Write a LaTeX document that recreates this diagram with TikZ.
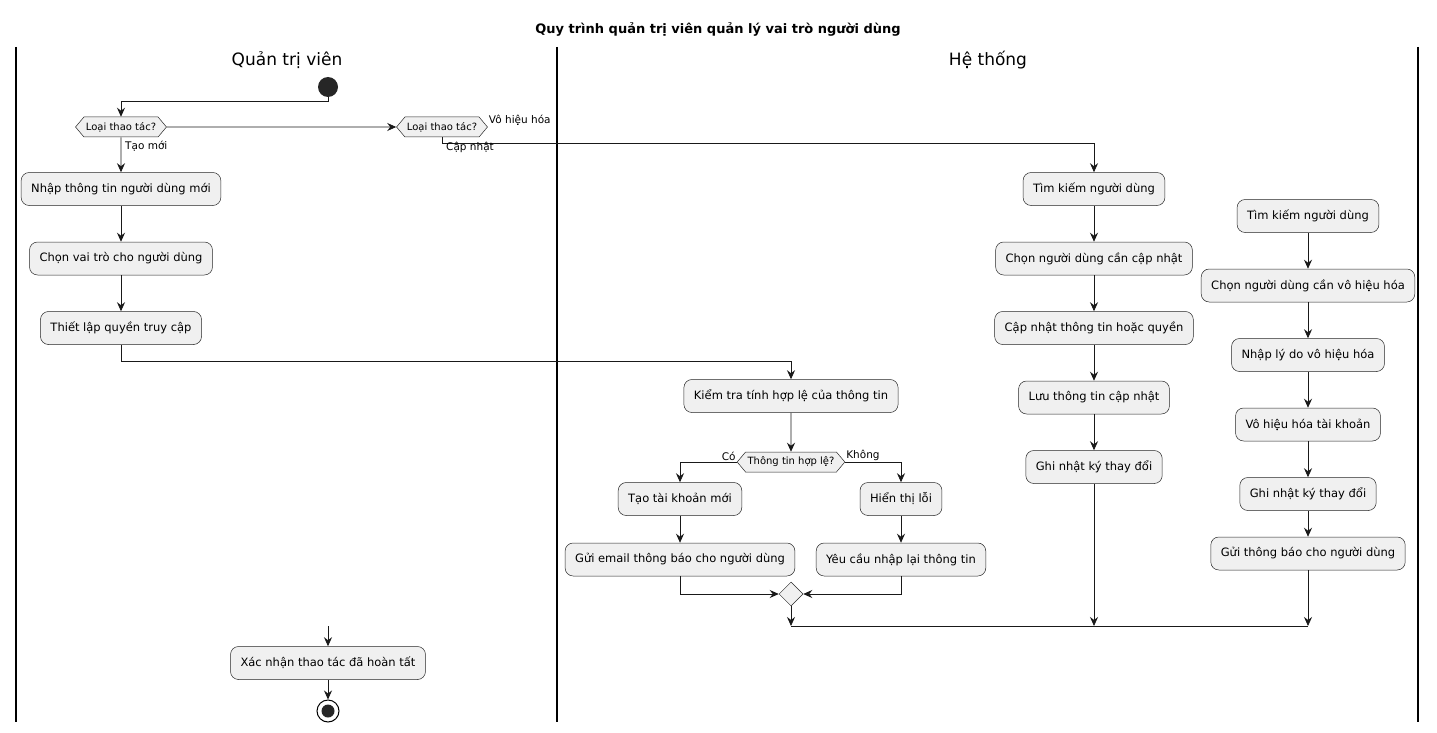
\documentclass[tikz,border=0pt]{standalone}
\usepackage{fontspec}
\setmainfont{DejaVu Sans}
\usetikzlibrary{shapes.geometric, shapes.symbols, arrows.meta, positioning}

\begin{document}
\begin{tikzpicture}[
  x=1pt, y=-1pt,
  node distance=36pt,
  act/.style={rectangle, rounded corners=8pt, draw=black!85, fill=black!6, line width=0.5pt, minimum height=33pt, inner xsep=10pt, font=\fontsize{11.5}{13}\selectfont},
  choice/.style={signal, signal to=east and west, signal pointer angle=100, draw=black!85, fill=black!6, line width=0.5pt, minimum height=20pt, inner xsep=2pt, inner ysep=1pt, font=\fontsize{10}{11}\selectfont},
  merge/.style={diamond, draw=black!85, fill=black!6, line width=0.5pt, minimum size=24pt, inner sep=0pt},
  lane/.style={line width=1.5pt},
  lanetitle/.style={font=\fontsize{17}{20}\selectfont},
  blabel/.style={font=\fontsize{10.5}{12}\selectfont, inner sep=1pt},
  arr/.style={-{Stealth[length=9pt, width=8pt, inset=3pt]}, line width=0.8pt, black!90},
  line/.style={line width=0.8pt, black!90},
]
\useasboundingbox (0,0) rectangle (1437,733);

% title and swimlanes
\node[font=\bfseries\fontsize{13}{15}\selectfont] (title) at (718,29) {Quy trình quản trị viên quản lý vai trò người dùng};
\draw[lane] (16,47) -- (16,722);
\draw[lane] (557,47) -- (557,722);
\draw[lane] (1418,47) -- (1418,722);
\node[lanetitle] (admin) at (287,60) {Quản trị viên};
\node[lanetitle] (sys) at (988,60) {Hệ thống};

% start and choices
\node[circle, fill=black!85, minimum size=20pt, inner sep=0pt] (start) at (328,87) {};
\node[choice] (kind1) at (121,127) {Loại thao tác?};
\node[choice] (kind2) at (442,127) {Loại thao tác?};

% create branch
\node[act] (newinfo) at (121,189) {Nhập thông tin người dùng mới};
\node[act, below=of newinfo] (pickrole) {Chọn vai trò cho người dùng};
\node[act, below=of pickrole] (setperm) {Thiết lập quyền truy cập};
\node[act] (check) at (791,396) {Kiểm tra tính hợp lệ của thông tin};
\node[choice] (valid) at (791,462) {Thông tin hợp lệ?};
\node[act] (mkacct) at (680,499) {Tạo tài khoản mới};
\node[act, below=27pt of mkacct] (mail) {Gửi email thông báo cho người dùng};
\node[act] (showerr) at (901,499) {Hiển thị lỗi};
\node[act, below=27pt of showerr] (reenter) {Yêu cầu nhập lại thông tin};
\node[merge] (join) at (791,594) {};

% update branch
\node[act] (find1) at (1094,189) {Tìm kiếm người dùng};
\node[act, below=of find1] (pickupd) {Chọn người dùng cần cập nhật};
\node[act, below=of pickupd] (editupd) {Cập nhật thông tin hoặc quyền};
\node[act, below=of editupd] (saveupd) {Lưu thông tin cập nhật};
\node[act, below=of saveupd] (logupd) {Ghi nhật ký thay đổi};

% disable branch
\node[act] (find2) at (1308,216) {Tìm kiếm người dùng};
\node[act, below=of find2] (pickoff) {Chọn người dùng cần vô hiệu hóa};
\node[act, below=of pickoff] (reason) {Nhập lý do vô hiệu hóa};
\node[act, below=of reason] (disable) {Vô hiệu hóa tài khoản};
\node[act, below=of disable] (logoff) {Ghi nhật ký thay đổi};
\node[act, below=26pt of logoff] (notify) {Gửi thông báo cho người dùng};

% end
\coordinate (endA) at (791,626);
\coordinate (endB) at (1094,626);
\coordinate (endC) at (1308,626);
\coordinate (resume) at (328,626);
\node[act] (done) at (328,663) {Xác nhận thao tác đã hoàn tất};
\node[circle, draw=black, line width=1pt, fill=white, minimum size=22pt, inner sep=0pt] (stop) at (328,711) {};
\fill[black!85] (stop.center) circle (6.5);

% connectors
\draw[arr] (start.south) -- ++(0,4) -| (kind1.north);
\draw[arr] (kind1) -- (kind2);
\node[blabel, anchor=south west] at (kind2.east) {Vô hiệu hóa};
\draw[arr] (kind2.south) -- ++(0,6) -| (find1.north);
\node[blabel, anchor=north west] at ([xshift=3pt, yshift=-4pt]kind2.south) {Cập nhật};
\draw[arr] (kind1) -- (newinfo);
\node[blabel, anchor=north west] at ([xshift=3pt, yshift=-3pt]kind1.south) {Tạo mới};
\draw[arr] (newinfo) -- (pickrole);
\draw[arr] (pickrole) -- (setperm);
\draw[arr] (setperm.south) -- ++(0,17) -| (check.north);
\draw[arr] (check) -- (valid);
\draw[arr] (valid.west) -| (mkacct.north);
\node[blabel, anchor=south east] at (valid.west) {Có};
\draw[arr] (valid.east) -| (showerr.north);
\node[blabel, anchor=south west] at (valid.east) {Không};
\draw[arr] (mkacct) -- (mail);
\draw[arr] (showerr) -- (reenter);
\draw[arr] (mail.south) |- (join.west);
\draw[arr] (reenter.south) |- (join.east);

\draw[arr] (find1) -- (pickupd);
\draw[arr] (pickupd) -- (editupd);
\draw[arr] (editupd) -- (saveupd);
\draw[arr] (saveupd) -- (logupd);

\draw[arr] (find2) -- (pickoff);
\draw[arr] (pickoff) -- (reason);
\draw[arr] (reason) -- (disable);
\draw[arr] (disable) -- (logoff);
\draw[arr] (logoff) -- (notify);

\draw[arr] (join.south) -- (endA);
\draw[arr] (logupd.south) -- (endB);
\draw[arr] (notify.south) -- (endC);
\draw[line] (endA) -- (endC);
\draw[arr] (resume) -- (done);
\draw[arr] (done) -- (stop);
\end{tikzpicture}
\end{document}
